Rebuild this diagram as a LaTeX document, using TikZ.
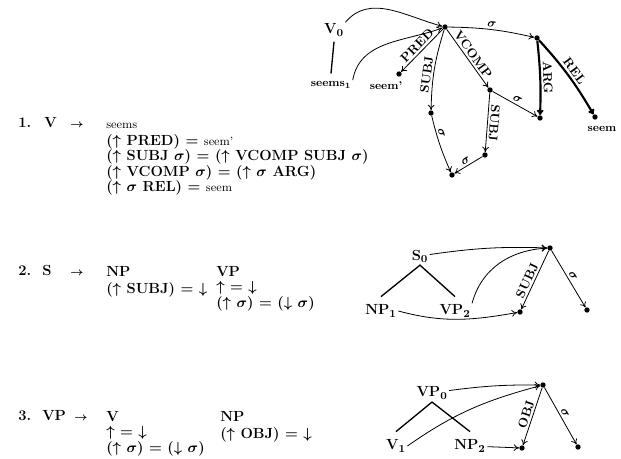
\documentclass[tikz,border=0pt]{standalone}
\usepackage{amsmath,amssymb}
\usetikzlibrary{positioning, arrows.meta}

\newcommand{\lexw}[1]{{\mdseries\fontsize{9}{10}\selectfont #1}}
\newcommand{\rulearrow}{{\fontsize{8}{9}\selectfont$\rightarrow$}}

\tikzset{
  rule/.style={font=\fontsize{11}{11.6}\selectfont\bfseries\boldmath, inner sep=0pt, align=left, anchor=north west},
  tag/.style={font=\fontsize{11}{11.6}\selectfont\bfseries\boldmath, inner sep=0pt, anchor=base west},
  cat/.style={font=\fontsize{11}{13}\selectfont\bfseries\boldmath, inner sep=1pt},
  word/.style={font=\fontsize{8.5}{10}\selectfont\bfseries\boldmath, inner sep=1pt},
  fs/.style={circle, fill, inner sep=0pt, minimum size=4pt},
  lab/.style={font=\fontsize{9.5}{11}\selectfont\bfseries\boldmath, inner sep=1.5pt, sloped, above},
  arc/.style={-{To[length=4pt,width=5pt]}, line width=0.6pt},
  thickarc/.style={arc, line width=1.6pt},
  branch/.style={line width=1pt}
}

\begin{document}
\begin{tikzpicture}[x=0.75pt, y=-0.75pt]
  \useasboundingbox (0,0) rectangle (621,459);

  % rule 1
  \node[tag] (n1) at (18,128) {1.};
  \node[tag] (lhs1) at (44,128) {V};
  \node[tag] (to1) at (70,128) {\rulearrow};
  \node[rule] (rhs1) at (106,117.2) {\strut\lexw{seems}\\
    ($\uparrow$ PRED) = \lexw{seem'}\\
    ($\uparrow$ SUBJ $\sigma$) = ($\uparrow$ VCOMP SUBJ $\sigma$)\\
    ($\uparrow$ VCOMP $\sigma$) = ($\uparrow$ $\sigma$ ARG)\\
    ($\uparrow$ $\sigma$ REL) = \lexw{seem}};

  % rule 2
  \node[tag] (n2) at (18,276) {2.};
  \node[tag] (lhs2) at (42,276) {S};
  \node[tag] (to2) at (70,276) {\rulearrow};
  \node[rule] (np2) at (106,265.2) {\strut NP\\ ($\uparrow$ SUBJ) = $\downarrow$};
  \node[rule] (vp2) at (216,265.2) {\strut VP\\ $\uparrow$ = $\downarrow$\\ ($\uparrow$ $\sigma$) = ($\downarrow$ $\sigma$)};

  % rule 3
  \node[tag] (n3) at (18,421) {3.};
  \node[tag] (lhs3) at (42,421) {VP};
  \node[tag] (to3) at (74,421) {\rulearrow};
  \node[rule] (v3) at (106,410.2) {\strut V\\ $\uparrow$ = $\downarrow$\\ ($\uparrow$ $\sigma$) = ($\downarrow$ $\sigma$)};
  \node[rule] (np3) at (220,410.2) {\strut NP\\ ($\uparrow$ OBJ) = $\downarrow$};

  % graph 1
  \node[cat] (V0) at (334,30) {V$_0$};
  \node[word] (seems1) at (331,85) {seems$_1$};
  \draw[branch] ([yshift=-3pt]V0.south) -- ([yshift=5pt]seems1.north);
  \node[fs] (f) at (445,27) {};
  \node[fs] (pred) at (399,74) {};
  \node[word] (seemp) at (386,86) {seem'};
  \node[fs] (g) at (537,38) {};
  \node[fs] (v) at (490,90) {};
  \node[fs] (s) at (431,113) {};
  \node[fs] (vs) at (485,155) {};
  \node[fs] (low) at (452,175) {};
  \node[fs] (arg) at (540,118) {};
  \node[fs] (rel) at (595,117) {};
  \node[word] (seem) at (602,129) {seem};
  \draw[arc] (V0.north east) to[out=50, in=165] (f);
  \draw[arc] (seems1.north east) to[out=80, in=200] (f);
  \draw[arc] (f) -- node[lab] {PRED} (pred);
  \draw[arc] (f) to[bend right=8] node[lab, pos=0.58] {SUBJ} (s);
  \draw[arc] (f) -- node[lab] {VCOMP} (v);
  \draw[arc] (f) to[bend left=6] node[lab] {$\sigma$} (g);
  \draw[arc] (s) to[bend right=5] node[lab, pos=0.3] {$\sigma$} (low);
  \draw[arc] (v) -- node[lab, allow upside down] {SUBJ} (vs);
  \draw[arc] (vs) -- node[lab] {$\sigma$} (low);
  \draw[arc] (v) -- node[lab] {$\sigma$} (arg);
  \draw[thickarc] (g) to[bend left=4] node[lab] {ARG} (arg);
  \draw[thickarc] (g) to[bend left=6] node[lab] {REL} (rel);

  % graph 2
  \node[cat] (S0) at (420,256) {S$_0$};
  \node[cat] (NP1) at (381,311) {NP$_1$};
  \node[cat] (VP2) at (455,311) {VP$_2$};
  \draw[branch] ([yshift=5pt]NP1.north) -- ([yshift=-1pt]S0.south) -- ([yshift=5pt]VP2.north);
  \node[fs] (f2) at (550,248) {};
  \node[fs] (subj2) at (520,312) {};
  \node[fs] (sig2) at (587,310) {};
  \draw[arc] (S0) to[bend left=5] (f2);
  \draw[arc] (VP2.north east) to[out=75, in=183] (f2);
  \draw[arc] (NP1.east) to[out=-15, in=190] (subj2);
  \draw[arc] (f2) -- node[lab, pos=0.56] {SUBJ} (subj2);
  \draw[arc] (f2) -- node[lab] {$\sigma$} (sig2);

  % graph 3
  \node[cat] (VP0) at (432,393) {VP$_0$};
  \node[cat] (V1) at (396,446) {V$_1$};
  \node[cat] (NP2) at (470,446) {NP$_2$};
  \draw[branch] ([yshift=5pt]V1.north) -- ([yshift=-1pt]VP0.south) -- ([yshift=5pt]NP2.north);
  \node[fs] (f3) at (543,385) {};
  \node[fs] (obj) at (522,448) {};
  \node[fs] (sig3) at (578,447) {};
  \draw[arc] (VP0) to[bend left=4] (f3);
  \draw[arc] (V1.east) to[out=35, in=195] (f3);
  \draw[arc] (NP2) -- (obj);
  \draw[arc] (f3) -- node[lab] {OBJ} (obj);
  \draw[arc] (f3) -- node[lab] {$\sigma$} (sig3);
\end{tikzpicture}
\end{document}
